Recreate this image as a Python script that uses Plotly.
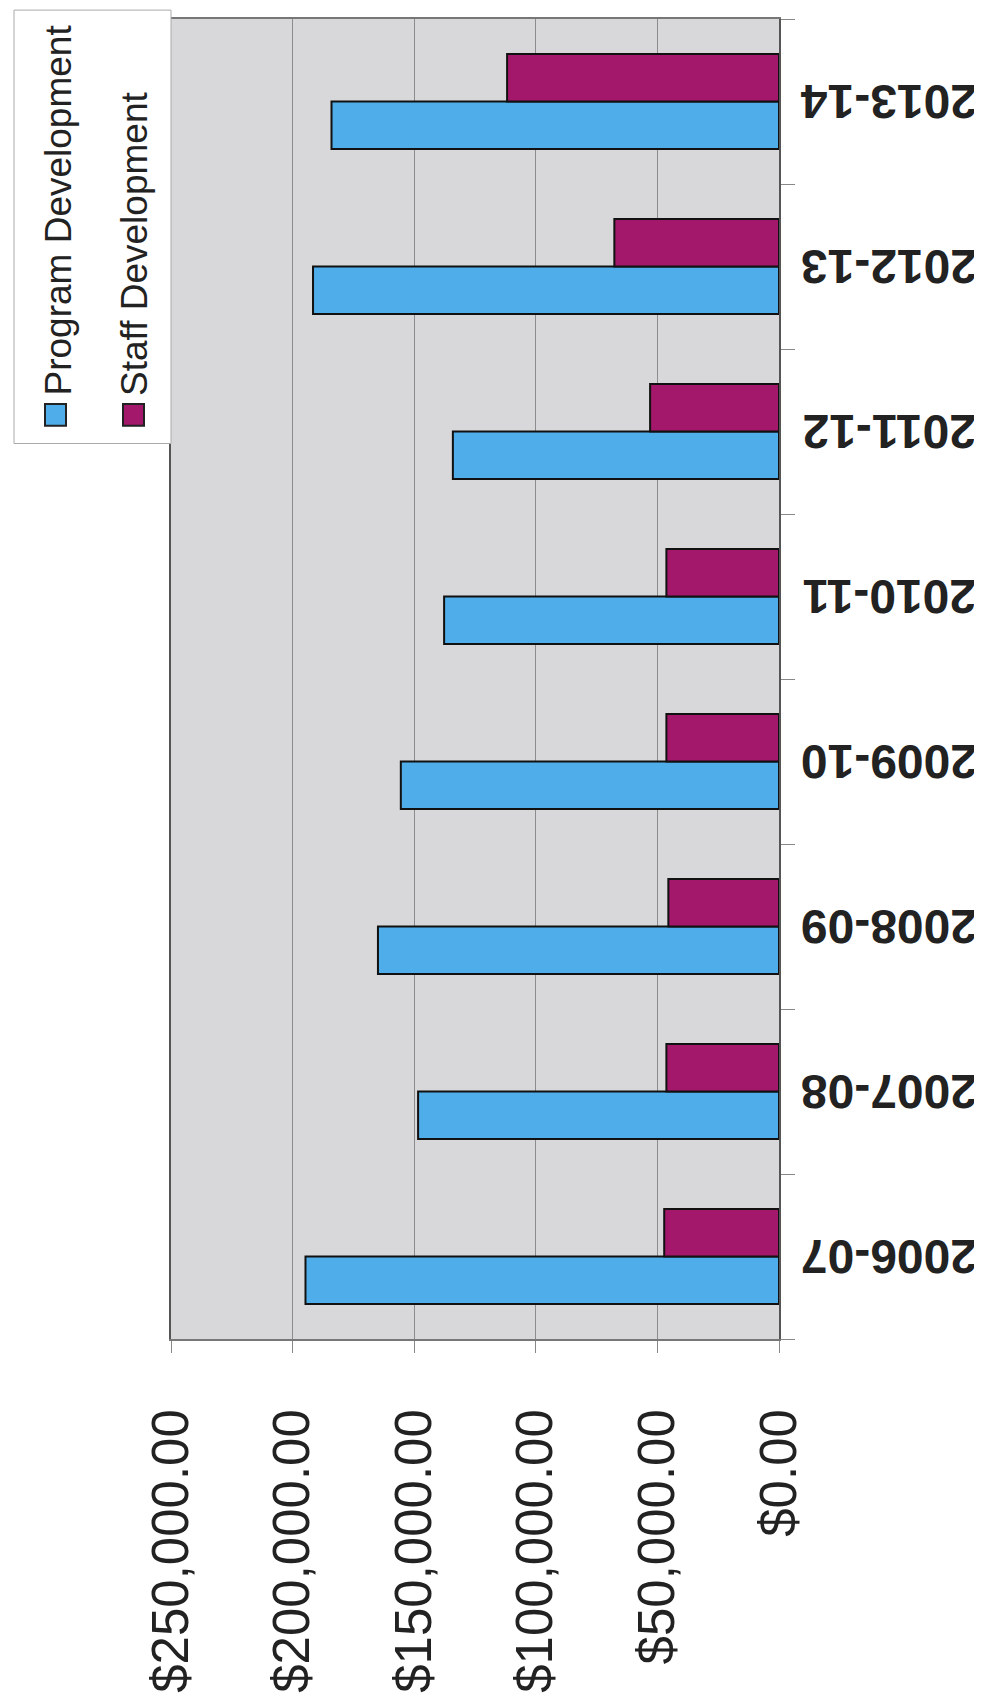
import plotly.graph_objects as go

years = ["2006-07", "2007-08", "2008-09", "2009-10", "2010-11", "2011-12", "2012-13", "2013-14"]
program_dev = [194700, 148400, 164900, 155500, 137700, 134100, 191600, 184000]
staff_dev = [47200, 46300, 45500, 46300, 46300, 53000, 67700, 111800]
x_ticks = [0, 50000, 100000, 150000, 200000, 250000]
series_names = ["Program Development", "Staff Development"]
colors = ["#4FAEEA", "#A3186B"]

W, H = 982, 1694
L, R, T, B = 163, 771, 9, 1343

def px(x):
    return (x - L) / (R - L)

def py(y):
    return (B - y) / (B - T)

fig = go.Figure()
fig.add_trace(go.Bar(y=years, x=program_dev, orientation="h", name=series_names[0],
                     marker=dict(color=colors[0], line=dict(color="#111111", width=2))))
fig.add_trace(go.Bar(y=years, x=staff_dev, orientation="h", name=series_names[1],
                     marker=dict(color=colors[1], line=dict(color="#111111", width=2))))

fig.update_layout(
    width=W, height=H,
    margin=dict(l=L, r=W - R, t=T, b=H - B),
    paper_bgcolor="white",
    plot_bgcolor="#D8D8DA",
    barmode="group",
    bargap=0.424,
    bargroupgap=0,
    showlegend=False,
    font=dict(family="Liberation Sans, Arial, sans-serif", color="#222222"),
)

fig.update_xaxes(
    range=[250000, 0],
    tickvals=x_ticks,
    tickformat="$,.2f",
    tickangle=-90,
    tickfont=dict(size=51, family="Liberation Sans, Arial, sans-serif", color="#222222"),
    ticks="outside", ticklen=12, tickcolor="#888888", tickwidth=1,
    ticklabelstandoff=36,
    showgrid=True, gridcolor="#8C8C8C", gridwidth=1,
    showline=True, linecolor="#777777", linewidth=1.5, mirror=True,
    zeroline=False,
)

fig.update_yaxes(
    type="category",
    side="right",
    categoryorder="array", categoryarray=years,
    showticklabels=False,
    ticks="outside", ticklen=14, tickcolor="#888888", tickwidth=1,
    tickson="boundaries",
    showgrid=False,
    showline=True, linecolor="#555555", linewidth=1.5, mirror=True,
)

# Category labels, rotated upside down as in the scanned original
for yr in years:
    fig.add_annotation(text=yr, xref="paper", yref="y", x=px(881), y=yr,
                       xanchor="center", yanchor="middle", textangle=180, showarrow=False,
                       font=dict(size=48, family="Liberation Sans, Arial, sans-serif",
                                 color="#222222", weight="bold"))

# Legend box (drawn manually, text rotated)
shapes = [
    dict(type="rect", xref="paper", yref="paper", x0=px(6), x1=px(163), y0=py(438), y1=py(0),
         fillcolor="white", line=dict(color="#AAAAAA", width=1), layer="above"),
    dict(type="rect", xref="paper", yref="paper", x0=px(37), x1=px(58), y0=py(420), y1=py(398),
         fillcolor=colors[0], line=dict(color="#222222", width=2), layer="above"),
    dict(type="rect", xref="paper", yref="paper", x0=px(115), x1=px(136), y0=py(420), y1=py(398),
         fillcolor=colors[1], line=dict(color="#222222", width=2), layer="above"),
]
fig.update_layout(shapes=shapes)

fig.add_annotation(text=series_names[0], xref="paper", yref="paper", x=px(50), y=py(392),
                   xanchor="center", yanchor="bottom", textangle=-90, showarrow=False,
                   font=dict(size=37, family="Liberation Sans, Arial, sans-serif", color="#222222"))
fig.add_annotation(text=series_names[1], xref="paper", yref="paper", x=px(127), y=py(392),
                   xanchor="center", yanchor="bottom", textangle=-90, showarrow=False,
                   font=dict(size=37, family="Liberation Sans, Arial, sans-serif", color="#222222"))

fig.write_html("out.html")
